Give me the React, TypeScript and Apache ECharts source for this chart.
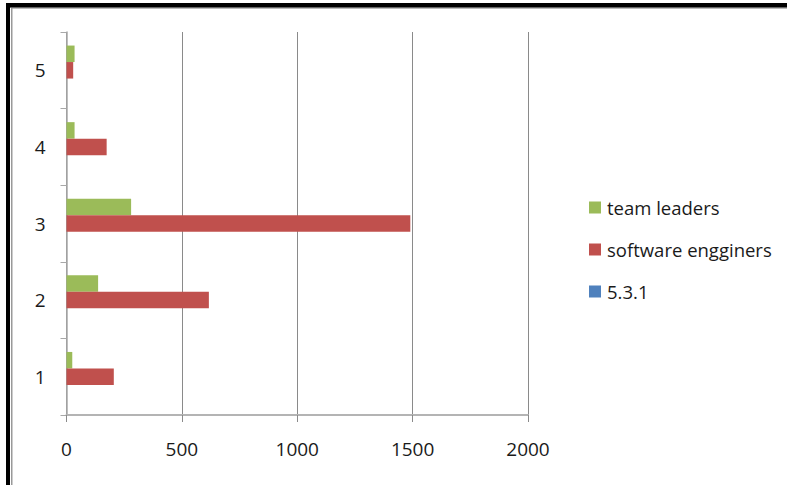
import React, { useEffect, useRef } from "react";
import * as echarts from "echarts";

const categories = ["1", "2", "3", "4", "5"];
const teamLeaders = [25, 137, 280, 35, 35];
const softwareEngineers = [205, 617, 1490, 174, 29];
const series531 = [0, 0, 0, 0, 0];
const xTicks = { min: 0, max: 2000, interval: 500 };

const FONT = "Open Sans";

export default function App() {
  const ref = useRef<HTMLDivElement>(null);
  useEffect(() => {
    if (!ref.current) return;
    const chart = echarts.init(ref.current, null, { renderer: "svg" });
    chart.setOption({
      animation: false,
      backgroundColor: "#ffffff",
      textStyle: { fontFamily: FONT },
      grid: { left: 66.5, right: 259, top: 32, bottom: 70, containLabel: false },
      legend: {
        orient: "vertical",
        left: 584,
        top: 193,
        itemWidth: 12,
        itemHeight: 12,
        itemGap: 23,
        icon: "rect",
        data: ["team leaders", "software engginers", "5.3.1"],
        textStyle: { fontFamily: FONT, fontSize: 18.5, color: "#1a1a1a", padding: [0, 0, 0, 1] },
      },
      xAxis: {
        type: "value",
        min: xTicks.min,
        max: xTicks.max,
        interval: xTicks.interval,
        axisLine: { show: true, lineStyle: { color: "#b4b4b4", width: 2 } },
        axisTick: { show: true, length: 7, lineStyle: { color: "#8a8a8a" } },
        axisLabel: {
          fontFamily: FONT,
          fontSize: 19,
          color: "#1a1a1a",
          margin: 24,
          formatter: (v: number) => String(v),
        },
        splitLine: { show: true, lineStyle: { color: "#8a8a8a", width: 1 } },
      },
      yAxis: {
        type: "category",
        data: categories,
        axisLine: { show: true, lineStyle: { color: "#a8a8a8", width: 1.5 } },
        axisTick: { show: true, length: 6, lineStyle: { color: "#a8a8a8" } },
        axisLabel: { fontFamily: FONT, fontSize: 19, color: "#1a1a1a", margin: 21 },
        splitLine: { show: false },
      },
      series: [
        {
          name: "team leaders",
          type: "bar",
          data: teamLeaders,
          barWidth: 16.5,
          barGap: "0%",
          itemStyle: { color: "#9BBB59" },
        },
        {
          name: "software engginers",
          type: "bar",
          data: softwareEngineers,
          barWidth: 16.5,
          barGap: "0%",
          itemStyle: { color: "#C0504D" },
        },
        {
          name: "5.3.1",
          type: "bar",
          data: series531,
          barWidth: 16.5,
          barGap: "0%",
          itemStyle: { color: "#4F81BD" },
        },
      ],
      graphic: [
        { type: "rect", shape: { x: 6, y: 3, width: 4, height: 482 }, style: { fill: "#000" }, z: 100 },
        { type: "rect", shape: { x: 6, y: 3, width: 781, height: 4 }, style: { fill: "#000" }, z: 100 },
        { type: "rect", shape: { x: 10, y: 7, width: 777, height: 1 }, style: { fill: "#666" }, z: 100 },
        { type: "rect", shape: { x: 11, y: 8, width: 776, height: 1 }, style: { fill: "#bbb" }, z: 100 },
        { type: "rect", shape: { x: 11, y: 8, width: 1.5, height: 477 }, style: { fill: "#999" }, z: 100 },
      ],
    });
    return () => chart.dispose();
  }, []);
  return (
    <div
      ref={ref}
      style={{ position: "fixed", left: 0, top: 0, width: 787, height: 485, background: "#fff" }}
    />
  );
}
